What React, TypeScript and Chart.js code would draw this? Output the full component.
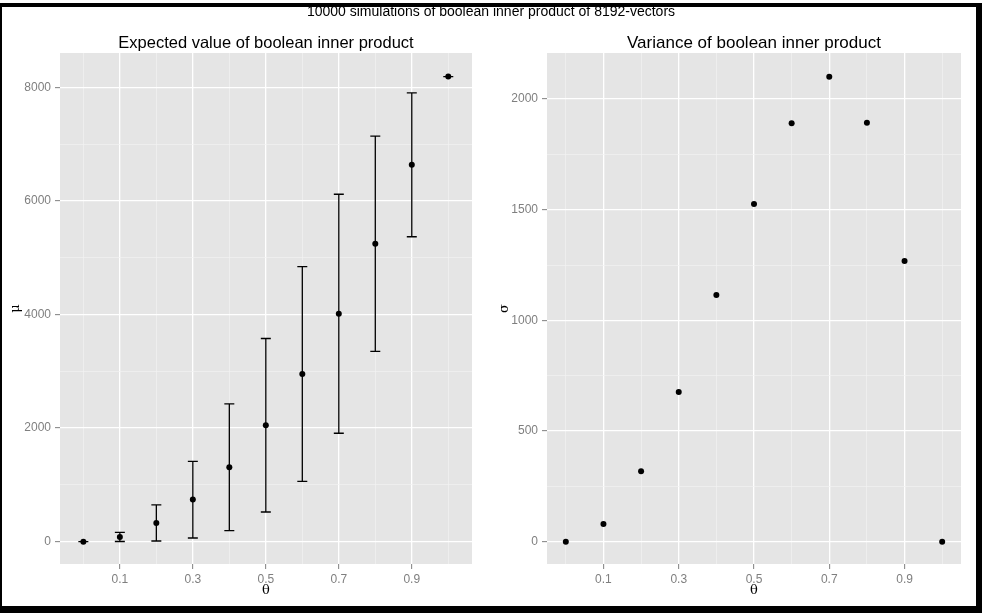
import React, { useEffect, useRef } from "react";
import { Chart, registerables } from "chart.js";

Chart.register(...registerables);

// ---------- data ----------
const theta = [0, 0.1, 0.2, 0.3, 0.4, 0.5, 0.6, 0.7, 0.8, 0.9, 1.0];
const meanValues = [0, 83, 330, 741, 1311, 2051, 2954, 4015, 5248, 6639, 8192];
const lowerValues = [0, 3, 12, 65, 194, 523, 1064, 1910, 3353, 5371, 8192];
const upperValues = [0, 165, 647, 1416, 2426, 3579, 4844, 6120, 7143, 7907, 8192];
const sigmaValues = [0, 80, 318, 676, 1115, 1526, 1891, 2101, 1893, 1268, 0];

const xTickValues = [0, 0.1, 0.2, 0.3, 0.4, 0.5, 0.6, 0.7, 0.8, 0.9, 1.0];
const xMajorTicks = [0.1, 0.3, 0.5, 0.7, 0.9];

const meanTickValues = [0, 1000, 2000, 3000, 4000, 5000, 6000, 7000, 8000];
const meanMajorTicks = [0, 2000, 4000, 6000, 8000];

const sigmaTickValues = [0, 250, 500, 750, 1000, 1250, 1500, 1750, 2000];
const sigmaMajorTicks = [0, 500, 1000, 1500, 2000];

const superTitle = "10000 simulations of boolean inner product of 8192-vectors";
const leftTitle = "Expected value of boolean inner product";
const rightTitle = "Variance of boolean inner product";

const SANS = '"Liberation Sans", Arial, Helvetica, sans-serif';
const SERIF = '"DejaVu Serif", "Liberation Serif", serif';

const panelBg = {
  id: "panelBg",
  beforeDraw(chart: any) {
    const { ctx, chartArea } = chart;
    ctx.save();
    ctx.fillStyle = "#E5E5E5";
    ctx.fillRect(chartArea.left, chartArea.top, chartArea.right - chartArea.left, chartArea.bottom - chartArea.top);
    ctx.restore();
  },
};

const errorBars = {
  id: "errorBars",
  afterDatasetsDraw(chart: any) {
    const { ctx } = chart;
    const xs = chart.scales.x;
    const ys = chart.scales.y;
    const capHalf = 0.0137;
    ctx.save();
    ctx.strokeStyle = "#000000";
    ctx.lineWidth = 1.3;
    for (let i = 0; i < theta.length; i++) {
      const x = xs.getPixelForValue(theta[i]);
      const xl = xs.getPixelForValue(theta[i] - capHalf);
      const xr = xs.getPixelForValue(theta[i] + capHalf);
      const yl = ys.getPixelForValue(lowerValues[i]);
      const yu = ys.getPixelForValue(upperValues[i]);
      ctx.beginPath();
      ctx.moveTo(x, yl);
      ctx.lineTo(x, yu);
      ctx.moveTo(xl, yl);
      ctx.lineTo(xr, yl);
      ctx.moveTo(xl, yu);
      ctx.lineTo(xr, yu);
      ctx.stroke();
    }
    ctx.restore();
  },
};

type PanelSpec = {
  title: string;
  titleSize: number;
  yTitle: string;
  yTitlePad: number;
  values: number[];
  yMin: number;
  yMax: number;
  yTicks: number[];
  yMajor: number[];
  xMin: number;
  xMax: number;
  yAxisWidth: number;
  rightPad: number;
  extraPlugins: any[];
};

function buildConfig(p: PanelSpec): any {
  const isMajX = (v: number) => xMajorTicks.includes(v);
  const isMajY = (v: number) => p.yMajor.includes(v);
  return {
    type: "scatter",
    data: {
      datasets: [
        {
          data: theta.map((t, i) => ({ x: t, y: p.values[i] })),
          pointRadius: 3,
          pointHoverRadius: 3,
          pointBackgroundColor: "#000000",
          pointBorderWidth: 0,
          borderWidth: 0,
          showLine: false,
        },
      ],
    },
    options: {
      responsive: false,
      animation: false,
      events: [],
      layout: { padding: { left: 0, right: p.rightPad, top: 0, bottom: 0 } },
      plugins: {
        legend: { display: false },
        tooltip: { enabled: false },
        title: {
          display: true,
          text: p.title,
          fullSize: false,
          color: "#000000",
          font: { family: SANS, size: p.titleSize, weight: "normal", lineHeight: 1 },
          padding: { top: 53 - 1 - p.titleSize, bottom: 1 },
        },
      },
      scales: {
        x: {
          type: "linear",
          min: p.xMin,
          max: p.xMax,
          afterBuildTicks: (s: any) => {
            s.ticks = xTickValues.map((v) => ({ value: v }));
          },
          afterFit: (s: any) => {
            s.height = 49;
          },
          border: { display: false },
          grid: {
            color: (c: any) => (c.tick && isMajX(c.tick.value) ? "#FFFFFF" : "#F2F2F2"),
            lineWidth: (c: any) => (c.tick && isMajX(c.tick.value) ? 1.3 : 0.7),
            tickColor: (c: any) => (c.tick && isMajX(c.tick.value) ? "#7F7F7F" : "rgba(0,0,0,0)"),
            tickWidth: 1,
            tickLength: 5,
            drawTicks: true,
          },
          ticks: {
            autoSkip: false,
            maxRotation: 0,
            padding: 3,
            color: "#7F7F7F",
            font: { family: SANS, size: 12 },
            callback: (v: any) => (isMajX(v) ? Number(v).toFixed(1) : ""),
          },
          title: {
            display: true,
            text: "θ",
            color: "#000000",
            font: { family: SERIF, size: 13 },
            padding: { top: 0, bottom: 14.5 },
          },
        },
        y: {
          type: "linear",
          min: p.yMin,
          max: p.yMax,
          afterBuildTicks: (s: any) => {
            s.ticks = p.yTicks.map((v) => ({ value: v }));
          },
          afterFit: (s: any) => {
            s.width = p.yAxisWidth;
          },
          border: { display: false },
          grid: {
            color: (c: any) => (c.tick && isMajY(c.tick.value) ? "#FFFFFF" : "#F2F2F2"),
            lineWidth: (c: any) => (c.tick && isMajY(c.tick.value) ? 1.3 : 0.7),
            tickColor: (c: any) => (c.tick && isMajY(c.tick.value) ? "#7F7F7F" : "rgba(0,0,0,0)"),
            tickWidth: 1,
            tickLength: 5,
            drawTicks: true,
          },
          ticks: {
            autoSkip: false,
            padding: 4,
            color: "#7F7F7F",
            font: { family: SANS, size: 12 },
            callback: (v: any) => (isMajY(v) ? String(v) : ""),
          },
          title: {
            display: true,
            text: p.yTitle,
            color: "#000000",
            font: { family: SERIF, size: 13 },
            padding: { top: p.yTitlePad, bottom: 0 },
          },
        },
      },
    },
    plugins: [panelBg, ...p.extraPlugins],
  };
}

export default function App() {
  const leftRef = useRef<HTMLCanvasElement | null>(null);
  const rightRef = useRef<HTMLCanvasElement | null>(null);

  useEffect(() => {
    const left = new Chart(
      leftRef.current as HTMLCanvasElement,
      buildConfig({
        title: leftTitle,
        titleSize: 16.5,
        yTitle: "μ",
        yTitlePad: 8,
        values: meanValues,
        yMin: -393,
        yMax: 8608,
        yTicks: meanTickValues,
        yMajor: meanMajorTicks,
        xMin: -0.064,
        xMax: 1.065,
        yAxisWidth: 60,
        rightPad: 19,
        extraPlugins: [errorBars],
      })
    );
    const right = new Chart(
      rightRef.current as HTMLCanvasElement,
      buildConfig({
        title: rightTitle,
        titleSize: 17,
        yTitle: "σ",
        yTitlePad: 6,
        values: sigmaValues,
        yMin: -101,
        yMax: 2208,
        yTicks: sigmaTickValues,
        yMajor: sigmaMajorTicks,
        xMin: -0.05,
        xMax: 1.05,
        yAxisWidth: 56,
        rightPad: 21,
        extraPlugins: [],
      })
    );
    return () => {
      left.destroy();
      right.destroy();
    };
  }, []);

  return (
    <div
      style={{
        position: "absolute",
        left: 0,
        top: 0,
        width: 982,
        height: 613,
        background: "#FFFFFF",
        overflow: "hidden",
      }}
    >
      <canvas
        ref={leftRef}
        width={491}
        height={613}
        style={{ position: "absolute", left: 0, top: 0, width: 491, height: 613 }}
      />
      <canvas
        ref={rightRef}
        width={491}
        height={613}
        style={{ position: "absolute", left: 491, top: 0, width: 491, height: 613 }}
      />
      <div
        style={{
          position: "absolute",
          left: 0,
          top: 3,
          width: 982,
          height: 610,
          boxSizing: "border-box",
          borderTop: "4px solid #000",
          borderLeft: "2px solid #000",
          borderRight: "6px solid #000",
          borderBottom: "7px solid #000",
          pointerEvents: "none",
        }}
      />
      <div
        style={{
          position: "absolute",
          left: 0,
          top: 4,
          width: 982,
          textAlign: "center",
          fontFamily: SANS,
          fontSize: 14,
          lineHeight: "15px",
          color: "#000",
        }}
      >
        {superTitle}
      </div>
    </div>
  );
}
